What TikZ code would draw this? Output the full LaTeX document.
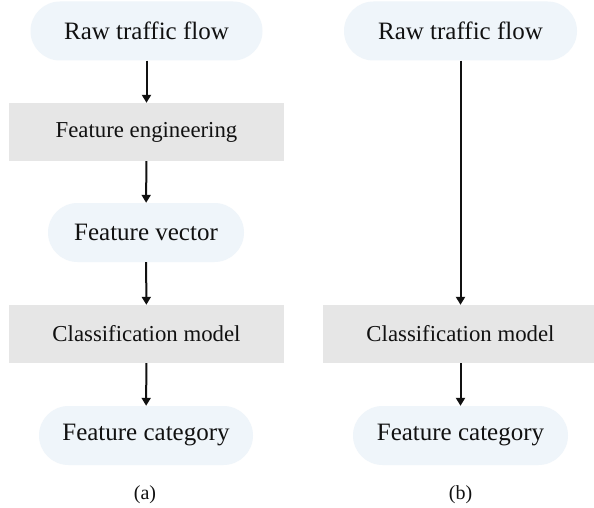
\documentclass[tikz,border=0pt]{standalone}
\usepackage{fontspec}
\setmainfont{Liberation Serif}
\usetikzlibrary{arrows.meta}
\definecolor{pillfill}{HTML}{EFF5FA}
\definecolor{boxfill}{HTML}{E6E6E6}
\definecolor{ink}{HTML}{111111}
\begin{document}
\begin{tikzpicture}[x=1pt,y=-1pt,
  pill/.style={fill=pillfill, rounded corners=29.5pt, inner sep=0pt,
    minimum height=59pt, font=\fontsize{25}{30}\selectfont, text=ink},
  procbox/.style={fill=boxfill, inner sep=0pt, minimum width=275pt,
    minimum height=58pt, font=\fontsize{22.8}{27}\selectfont, text=ink},
  caption/.style={font=\fontsize{20}{24}\selectfont, text=ink},
  flow/.style={draw=ink, line width=2pt,
    -{Triangle[width=9pt,length=8pt]}}]
\useasboundingbox (0,0) rectangle (594,508);
\fill[white] (0,0) rectangle (594,508);
\begin{scope}
\clip (0,0) rectangle (594,508);
% (a): full pipeline with a separate feature engineering stage
\node[pill, minimum width=232pt] (rawA) at (146.5,31) {Raw traffic flow};
\node[procbox] (featA) at (146.5,132) {Feature engineering};
\node[pill, minimum width=196pt] (vecA) at (146,232.5) {Feature vector};
\node[procbox] (clsA) at (146.5,334) {Classification model};
\node[pill, minimum width=214pt] (catA) at (146,435.5) {Feature category};
\node[caption] (capA) at (145,495) {(a)};
% (b): end-to-end pipeline
\node[pill, minimum width=233pt] (rawB) at (460.5,31) {Raw traffic flow};
\node[procbox] (clsB) at (460.5,334) {Classification model};
\node[pill, minimum width=215pt] (catB) at (460.5,435.5) {Feature category};
\node[caption] (capB) at (460.5,495) {(b)};
\end{scope}
% connectors
\draw[flow] (rawA) -- (featA);
\draw[flow] (featA) -- (vecA);
\draw[flow] (vecA) -- (clsA);
\draw[flow] (clsA) -- (catA);
\draw[flow] (rawB) -- (clsB);
\draw[flow] (clsB) -- (catB);
\end{tikzpicture}
\end{document}
